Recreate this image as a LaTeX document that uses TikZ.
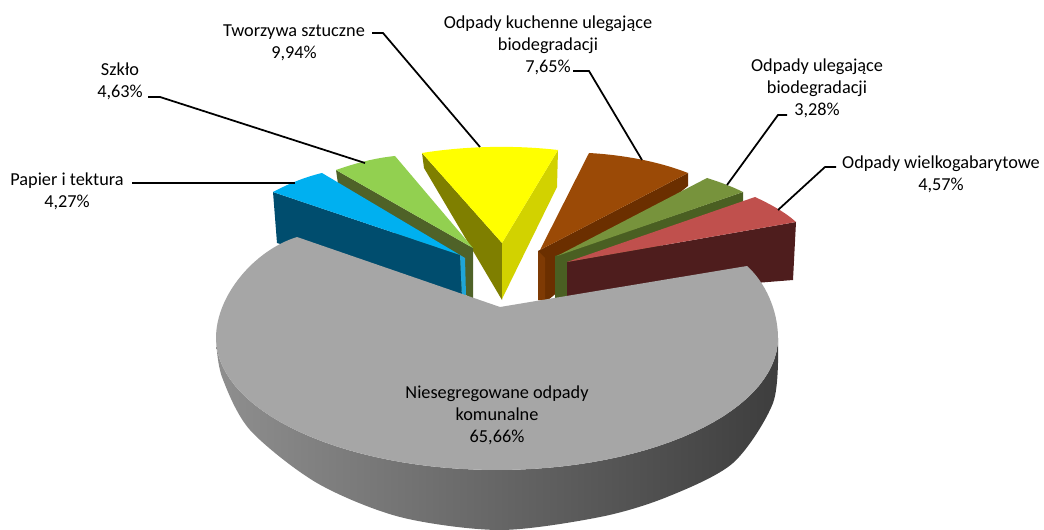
\documentclass[tikz,border=0pt]{standalone}
\usepackage{fontspec}
\setmainfont{Carlito}
\definecolor{blueT}{HTML}{00B0F0}
\definecolor{blueS}{HTML}{004D6E}
\definecolor{blueE}{HTML}{1FA5D8}
\definecolor{greenT}{HTML}{92D050}
\definecolor{greenS}{HTML}{4F6228}
\definecolor{yelT}{HTML}{FFFF00}
\definecolor{yelL}{HTML}{7F7F00}
\definecolor{yelR}{HTML}{D2D200}
\definecolor{brownT}{HTML}{9B4A06}
\definecolor{brownS}{HTML}{6B2F00}
\definecolor{brownL}{HTML}{7E3A04}
\definecolor{oliveT}{HTML}{77933C}
\definecolor{oliveS}{HTML}{4A5F22}
\definecolor{redT}{HTML}{C0504D}
\definecolor{redS}{HTML}{4E1D1D}
\definecolor{grayT}{HTML}{A6A6A6}
\begin{document}
\begin{tikzpicture}[x=0.02cm,y=-0.02cm,
  lbl/.style={font=\fontsize{10.4}{12.5}\selectfont, align=center, inner sep=0pt, text=black},
  leader/.style={draw=black, line width=1pt}]
\useasboundingbox (0,0) rectangle (1044,530);

% Tworzywa sztuczne (yellow)
\fill[yelL] (422,153) -- (424,168) -- (502,300) -- (502,243) -- cycle;
\fill[yelR] (558,150) -- (557,187) -- (502,299) -- (502,243) -- cycle;
\fill[yelT] (422,153) .. controls (465,146) and (515,145) .. (558,150) -- (502,243) -- cycle;

% Szklo (light green)
\fill[greenS] (336,170) -- (338,184) -- (473,301) -- (473,248) -- cycle;
\fill[greenT] (336,170) .. controls (356,163) and (375,158) .. (395,156) -- (473,248) -- cycle;

% Odpady kuchenne (brown)
\fill[brownS] (688,173) -- (688,186) -- (548,300) -- (538,300) -- (538,251) -- cycle;
\fill[brownL] (538,251) -- (538,300) -- (545,300) -- (545,258) -- cycle;
\fill[brownT] (589,153) .. controls (625,155) and (660,162) .. (688,173) -- (540,250) -- cycle;

% Papier i tektura (blue)
\fill[blueS] (273,192) -- (277,243) -- (462,297) -- (460,255) -- cycle;
\fill[blueE] (460,255) -- (465,258) -- (466,296) -- (462,297) -- cycle;
\fill[blueT] (273,192) .. controls (288,184) and (305,177) .. (322,173) -- (460,255) -- cycle;

% Odpady ulegajace (olive)
\fill[oliveS] (743,192) -- (743,202) -- (563,298) -- (555,298) -- (555,256) -- cycle;
\fill[oliveT] (707,178) .. controls (720,182) and (733,187) .. (743,192) -- (557,256) -- cycle;

% Odpady wielkogabarytowe (red)
\fill[redS] (796,222) -- (793,280) -- (567,298) -- (567,262) -- cycle;
\fill[redT] (755,197) .. controls (770,204) and (785,212) .. (796,222) -- (567,262) -- cycle;

% Niesegregowane (gray) side
\shade[left color=black!44, right color=black!76]
  plot[domain=180:360, samples=60] ({497+281*cos(\x)},{338-132*sin(\x)})
  -- plot[smooth] coordinates {(778,345) (773,403) (733,463) (667,497) (600,517) (500,530) (400,517) (317,483) (250,430) (222,377) (216,340)}
  -- cycle;
% gray top
\fill[grayT] (500,307) -- (297,237) .. controls (255,250) and (216,295) .. (216,338)
  -- plot[domain=180:360, samples=60] ({497+281*cos(\x)},{338-132*sin(\x)})
  .. controls (778,310) and (765,282) .. (747,266) -- cycle;

% labels
\node[lbl] (gray) at (497,415) {Niesegregowane odpady\\komunalne\\65,66\%};
\node[lbl] (pap) at (67,191) {Papier i tektura\\4,27\%};
\node[lbl] (szk) at (120,81) {Szkło\\4,63\%};
\node[lbl] (tw) at (294,43) {Tworzywa sztuczne\\9,94\%};
\node[lbl] (kuch) at (548,45) {Odpady kuchenne ulegające\\biodegradacji\\7,65\%};
\node[lbl] (ul) at (817,88) {Odpady ulegające\\biodegradacji\\3,28\%};
\node[lbl] (wg) at (941,174) {Odpady wielkogabarytowe\\4,57\%};

% leaders
\coordinate (papA) at (132,183); \coordinate (papB) at (295,183);
\coordinate (szkA) at (148,97); \coordinate (szkK) at (160,97); \coordinate (szkB) at (365,163);
\coordinate (twA) at (372,33); \coordinate (twK) at (383,33); \coordinate (twB) at (480,147);
\coordinate (kuA) at (573,71); \coordinate (kuK) at (589,71); \coordinate (kuB) at (642,160);
\coordinate (ulA) at (787,115); \coordinate (ulK) at (778,115); \coordinate (ulB) at (727,185);
\coordinate (wgA) at (836,167); \coordinate (wgK) at (825,167); \coordinate (wgB) at (778,210);
\draw[leader] (papA) -- (papB);
\draw[leader] (szkA) -- (szkK) -- (szkB);
\draw[leader] (twA) -- (twK) -- (twB);
\draw[leader] (kuA) -- (kuK) -- (kuB);
\draw[leader] (ulA) -- (ulK) -- (ulB);
\draw[leader] (wgA) -- (wgK) -- (wgB);
\end{tikzpicture}
\end{document}
